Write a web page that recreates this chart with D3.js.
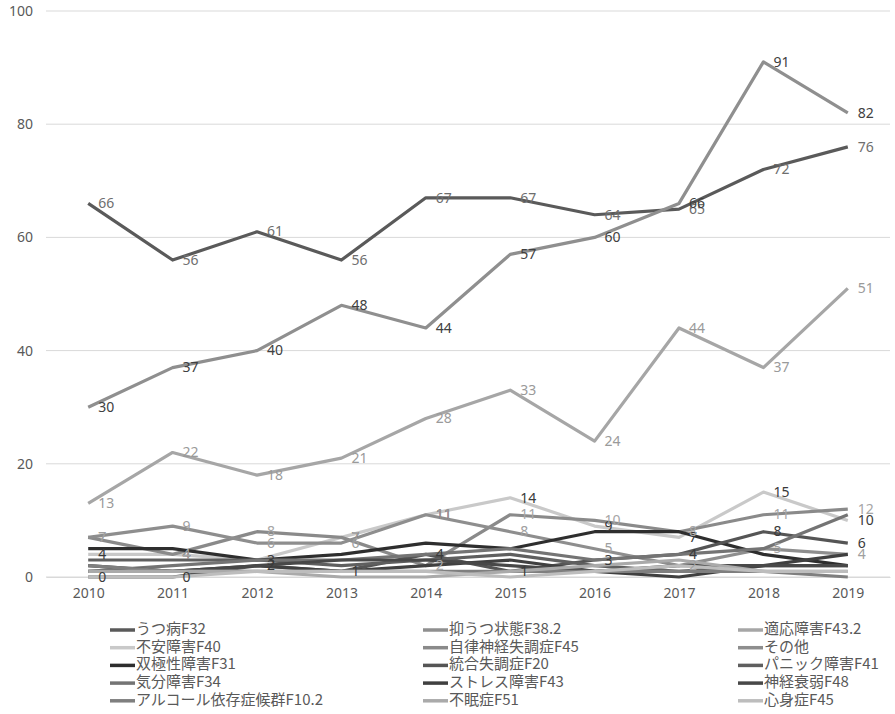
<!DOCTYPE html>
<html>
<head>
<meta charset="utf-8">
<script src="https://cdn.jsdelivr.net/npm/d3@7"></script>
<style>
  html, body { margin: 0; padding: 0; background: #fff; }
  svg { display: block; }
</style>
</head>
<body>
<svg id="chart" width="895" height="714"></svg>
<script>
// Categories and tick labels
const years = ["2010","2011","2012","2013","2014","2015","2016","2017","2018","2019"];
const yTicks = [0, 20, 40, 60, 80, 100];

// Series names (legend order)
const seriesNames = [
  "うつ病F32", "抑うつ状態F38.2", "適応障害F43.2",
  "不安障害F40", "自律神経失調症F45", "その他",
  "双極性障害F31", "統合失調症F20", "パニック障害F41",
  "気分障害F34", "ストレス障害F43", "神経衰弱F48",
  "アルコール依存症候群F10.2", "不眠症F51", "心身症F45"
];

// Values per series, one per year
const utsubyo      = [66, 56, 61, 56, 67, 67, 64, 65, 72, 76];
const yokuutsu     = [30, 37, 40, 48, 44, 57, 60, 66, 91, 82];
const tekiou       = [13, 22, 18, 21, 28, 33, 24, 44, 37, 51];
const fuan         = [4, 4, 3, 7, 11, 14, 9, 7, 15, 10];
const jiritsu      = [7, 4, 8, 7, 2, 11, 10, 8, 11, 12];
const sonota       = [7, 9, 6, 6, 11, 8, 5, 2, 5, 4];
const soukyoku     = [5, 5, 3, 4, 6, 5, 8, 8, 4, 2];
const tougou       = [0, 0, 2, 1, 4, 1, 3, 4, 8, 6];
const panic        = [3, 3, 3, 2, 3, 4, 2, 1, 2, 2];
const kibun        = [1, 2, 3, 3, 4, 5, 3, 4, 5, 11];
const stress       = [2, 1, 2, 1, 2, 3, 1, 0, 2, 4];
const shinkei      = [1, 1, 2, 3, 3, 2, 1, 2, 2, 2];
const alcohol      = [2, 1, 1, 1, 1, 1, 1, 1, 1, 0];
const fumin        = [1, 1, 1, 0, 0, 1, 2, 3, 1, 1];
const shinshin     = [0, 0, 1, 1, 1, 0, 1, 2, 1, 1];

const seriesValues = [utsubyo, yokuutsu, tekiou, fuan, jiritsu, sonota, soukyoku,
  tougou, panic, kibun, stress, shinkei, alcohol, fumin, shinshin];

// Line colours (grey scale)
const lineColors = ["#5a5a5a", "#8f8f8f", "#a6a6a6", "#c9c9c9", "#8a8a8a", "#8e8e8e",
  "#2e2e2e", "#555555", "#5f5f5f", "#747474", "#404040", "#484848", "#7f7f7f", "#aaaaaa", "#bdbdbd"];

// Which series carry data labels, and the label colour
const labelColors = ["#6e6e6e", "#404040", "#9a9a9a", "#3a3a3a", "#a6a6a6", "#a0a0a0",
  null, "#3a3a3a", null, null, null, null, null, null, null];

const svg = d3.select("#chart");
const margin = { left: 46, right: 5, top: 11, bottom: 137 };
const W = 895, H = 714;

const x = d3.scalePoint().domain(years).range([margin.left, W - margin.right]).padding(0.5);
const y = d3.scaleLinear().domain([0, 100]).range([H - margin.bottom, margin.top]);

const font = "'Noto Sans', 'Open Sans', sans-serif";

// Horizontal gridlines
svg.append("g")
  .selectAll("line")
  .data(yTicks)
  .join("line")
  .attr("x1", margin.left).attr("x2", W - margin.right)
  .attr("y1", d => y(d)).attr("y2", d => y(d))
  .attr("stroke", "#d9d9d9").attr("stroke-width", 1);

// Y axis labels
const yAxis = d3.axisLeft(y).tickValues(yTicks).tickSize(0).tickPadding(13);
svg.append("g")
  .attr("transform", `translate(${margin.left},0)`)
  .call(yAxis)
  .call(g => g.select(".domain").remove())
  .call(g => g.selectAll("text").attr("fill", "#595959").style("font-size", "14px").style("font-family", font));

// X axis labels
const xAxis = d3.axisBottom(x).tickSize(0).tickPadding(11);
svg.append("g")
  .attr("transform", `translate(0,${y(0)})`)
  .call(xAxis)
  .call(g => g.select(".domain").attr("stroke", "#d9d9d9"))
  .call(g => g.selectAll("text").attr("fill", "#595959").style("font-size", "14px").style("font-family", font));

// Lines
const line = d3.line()
  .x((d, i) => x(years[i]))
  .y(d => y(d));

svg.append("g")
  .selectAll("path")
  .data(seriesValues)
  .join("path")
  .attr("d", d => line(d))
  .attr("fill", "none")
  .attr("stroke", (d, i) => lineColors[i])
  .attr("stroke-width", 3.2)
  .attr("stroke-linejoin", "round");

// Data labels to the right of each point
const labelG = svg.append("g");
seriesValues.forEach((vals, si) => {
  if (!labelColors[si]) return;
  labelG.selectAll(null)
    .data(vals)
    .join("text")
    .attr("x", (d, i) => x(years[i]) + 10)
    .attr("y", d => y(d) + 1)
    .attr("dominant-baseline", "middle")
    .attr("fill", labelColors[si])
    .style("font-size", "14px")
    .style("font-family", font)
    .text(d => d);
});

// Legend: 3 columns x 5 rows
const legendCols = [110, 423, 738];
const legendRow0 = 630, legendStep = 17.7;
const legend = svg.append("g")
  .selectAll("g")
  .data(seriesNames)
  .join("g")
  .attr("transform", (d, i) => `translate(${legendCols[i % 3]},${legendRow0 + Math.floor(i / 3) * legendStep})`);

legend.append("line")
  .attr("x1", 0).attr("x2", 25)
  .attr("y1", 0).attr("y2", 0)
  .attr("stroke", (d, i) => lineColors[i])
  .attr("stroke-width", 3.5);

legend.append("text")
  .attr("x", 26)
  .attr("y", 0)
  .attr("dominant-baseline", "middle")
  .attr("fill", "#595959")
  .style("font-size", "15px")
  .style("font-family", "'Noto Sans CJK JP', 'Noto Sans', sans-serif")
  .text(d => d);
</script>
</body>
</html>
